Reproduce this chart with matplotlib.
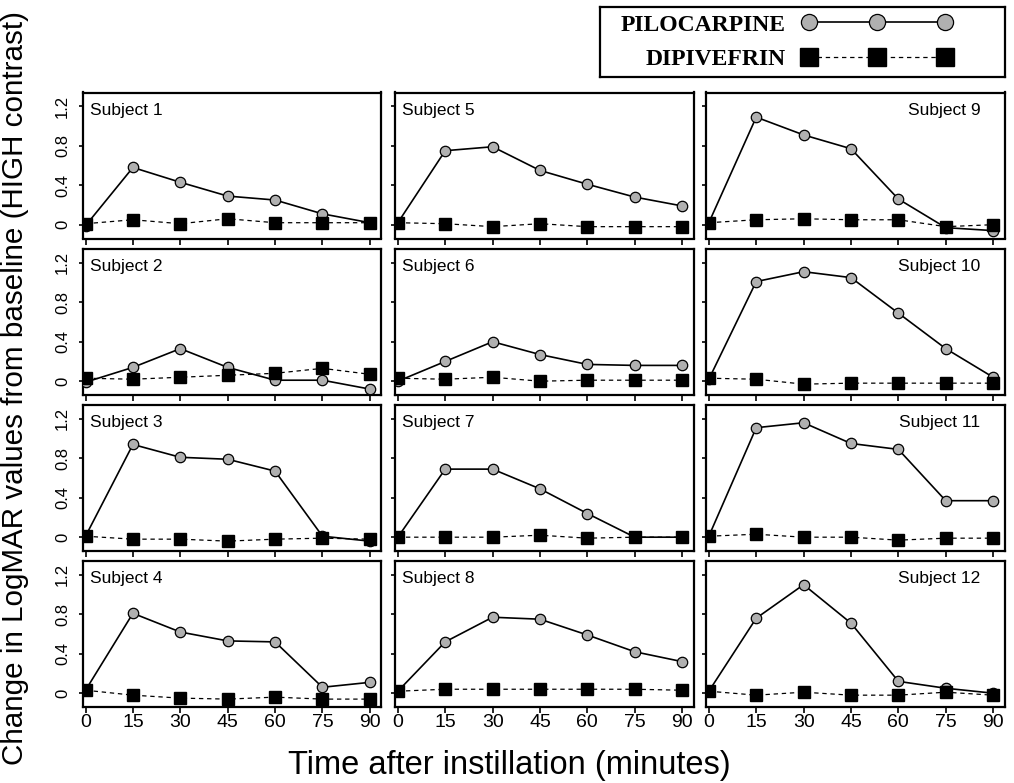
import matplotlib
matplotlib.use("Agg")
import matplotlib.pyplot as plt

plt.rcParams['font.family'] = ['Liberation Sans', 'DejaVu Sans']

times = [0, 15, 30, 45, 60, 75, 90]
subjects = ['Subject %d' % i for i in range(1, 13)]

# change in LogMAR, one row per subject (1..12)
pilocarpine = [
    [-0.01, 0.58, 0.43, 0.29, 0.25, 0.11, 0.02],
    [-0.01, 0.14, 0.33, 0.14, 0.01, 0.01, -0.08],
    [0.01, 0.94, 0.81, 0.79, 0.67, 0.01, -0.04],
    [0.03, 0.81, 0.62, 0.53, 0.52, 0.06, 0.11],
    [0.02, 0.75, 0.79, 0.55, 0.41, 0.28, 0.19],
    [0.00, 0.20, 0.40, 0.27, 0.17, 0.16, 0.16],
    [0.00, 0.69, 0.69, 0.49, 0.24, 0.00, 0.00],
    [0.02, 0.52, 0.77, 0.75, 0.59, 0.42, 0.32],
    [0.02, 1.09, 0.91, 0.77, 0.26, -0.03, -0.06],
    [0.02, 1.01, 1.11, 1.05, 0.69, 0.33, 0.04],
    [0.01, 1.11, 1.16, 0.95, 0.89, 0.37, 0.37],
    [0.02, 0.76, 1.10, 0.71, 0.12, 0.05, 0.00],
]
dipivefrin = [
    [0.01, 0.05, 0.01, 0.06, 0.02, 0.02, 0.02],
    [0.03, 0.02, 0.04, 0.06, 0.08, 0.13, 0.07],
    [0.01, -0.02, -0.02, -0.04, -0.02, -0.01, -0.02],
    [0.03, -0.02, -0.05, -0.06, -0.04, -0.06, -0.06],
    [0.02, 0.01, -0.02, 0.01, -0.02, -0.02, -0.02],
    [0.03, 0.02, 0.04, 0.00, 0.01, 0.01, 0.01],
    [0.00, 0.00, 0.00, 0.02, -0.01, 0.00, 0.00],
    [0.02, 0.04, 0.04, 0.04, 0.04, 0.04, 0.03],
    [0.02, 0.05, 0.06, 0.05, 0.05, -0.02, 0.00],
    [0.03, 0.02, -0.03, -0.02, -0.02, -0.02, -0.02],
    [0.01, 0.03, 0.00, 0.00, -0.03, -0.01, -0.01],
    [0.02, -0.02, 0.01, -0.02, -0.02, 0.01, -0.02],
]
yticks = [0, 0.4, 0.8, 1.2]
ytick_labels = ['0', '0.4', '0.8', '1.2']

W, H = 1014, 783
fig = plt.figure(figsize=(W / 100, H / 100), dpi=100)

col_left = [82.7, 395, 706]
col_w = 298.5
row_top = [92.5, 249, 405, 561]
row_h = 146

handles = None
for k in range(12):
    col, row = k // 4, k % 4
    ax = fig.add_axes([col_left[col] / W, (H - row_top[row] - row_h) / H,
                       col_w / W, row_h / H])
    lp, = ax.plot(times, pilocarpine[k], '-', color='black', lw=1.2,
                  marker='o', ms=7.5, mfc='#b0b0b0', mec='black', mew=0.9,
                  zorder=3)
    ld, = ax.plot(times, dipivefrin[k], color='black', lw=0.9,
                  linestyle=(0, (3.5, 3)), marker='s', ms=8, mfc='black',
                  mec='black', zorder=4)
    if handles is None:
        handles = [lp, ld]
    ax.set_xlim(-0.9, 93.6)
    ax.set_ylim(-0.14, 1.34)
    ax.set_xticks(times)
    ax.set_yticks(yticks)
    for s in ax.spines.values():
        s.set_linewidth(1.6)
    ax.tick_params(axis='x', direction='out', length=4, width=1.2, pad=1,
                   labelsize=14)
    ax.tick_params(axis='y', direction='out', length=3, width=1.2, pad=6,
                   labelsize=12)
    if col == 0:
        ax.set_yticklabels(ytick_labels, rotation=90, va='center')
    else:
        ax.set_yticklabels([])
    if row != 3:
        ax.set_xticklabels([])
    if col == 2:
        ax.text(0.92, 0.88, subjects[k], transform=ax.transAxes,
                ha='right', va='center', fontsize=12.5)
    else:
        ax.text(0.025, 0.88, subjects[k], transform=ax.transAxes,
                ha='left', va='center', fontsize=12.5)

fig.text(509 / W, 9 / H, 'Time after instillation (minutes)',
         ha='center', va='baseline', fontsize=23.5)
fig.text(15 / W, 0.505, 'Change in LogMAR values from baseline (HIGH contrast)',
         rotation=90, ha='center', va='center', fontsize=21.3)

# legend box
lax = fig.add_axes([600 / W, (H - 77) / H, 405 / W, 70 / H])
lax.set_xticks([])
lax.set_yticks([])
for s in lax.spines.values():
    s.set_linewidth(1.6)
leg = lax.legend(handles, ['PILOCARPINE', 'DIPIVEFRIN'], loc='center left',
                 bbox_to_anchor=(9 / 405, 0.5), frameon=False,
                 markerfirst=False, numpoints=3, handlelength=6.35,
                 handletextpad=0.7, borderpad=0, labelspacing=0.55,
                 markerscale=1.55,
                 prop={'family': 'Liberation Serif', 'weight': 'bold',
                       'size': 17})

fig.savefig('out.png', dpi=100)
